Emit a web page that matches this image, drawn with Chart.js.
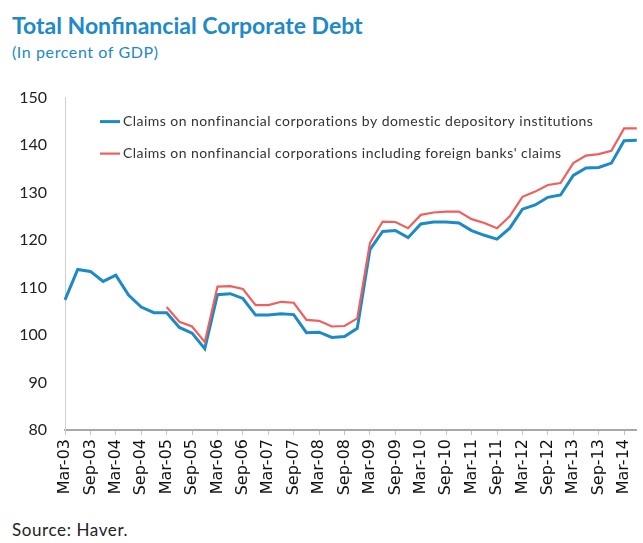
<!DOCTYPE html>
<html>
<head>
<meta charset="utf-8">
<script src="https://cdn.jsdelivr.net/npm/chart.js@4.4.1/dist/chart.umd.min.js"></script>
<style>
  html, body { margin: 0; padding: 0; background: #fff; width: 643px; height: 543px; overflow: hidden; }
  #title { position: absolute; left: 12px; top: 11px; font: bold 23px Lato, sans-serif; color: #2089c6; white-space: nowrap; }
  #sub { position: absolute; left: 12px; top: 42px; font: 16px Lato, sans-serif; letter-spacing: 0.6px; color: #2089c6; }
  #wrap { position: absolute; left: 0; top: 78px; width: 660px; height: 432px; }
  #source { position: absolute; left: 12px; top: 519px; font: 17px Lato, sans-serif; letter-spacing: 0.6px; color: #222; }
</style>
</head>
<body>
<div id="title">Total Nonfinancial Corporate Debt</div>
<div id="sub">(In percent of GDP)</div>
<div id="wrap"><canvas id="myChart" width="660" height="432"></canvas></div>
<div id="source">Source: Haver.</div>
<script>
// quarterly, Mar-03 .. Jun-14 (only Mar / Sep get a label)
const quarters = [
  'Mar-03', 'Jun-03', 'Sep-03', 'Dec-03', 'Mar-04', 'Jun-04', 'Sep-04', 'Dec-04',
  'Mar-05', 'Jun-05', 'Sep-05', 'Dec-05', 'Mar-06', 'Jun-06', 'Sep-06', 'Dec-06',
  'Mar-07', 'Jun-07', 'Sep-07', 'Dec-07', 'Mar-08', 'Jun-08', 'Sep-08', 'Dec-08',
  'Mar-09', 'Jun-09', 'Sep-09', 'Dec-09', 'Mar-10', 'Jun-10', 'Sep-10', 'Dec-10',
  'Mar-11', 'Jun-11', 'Sep-11', 'Dec-11', 'Mar-12', 'Jun-12', 'Sep-12', 'Dec-12',
  'Mar-13', 'Jun-13', 'Sep-13', 'Dec-13', 'Mar-14', 'Jun-14'
];

const domestic = [
  107.4, 113.8, 113.4, 111.3, 112.6, 108.4, 105.9, 104.7,
  104.7, 101.6, 100.4, 97.1, 108.5, 108.7, 107.7, 104.2,
  104.2, 104.5, 104.3, 100.5, 100.6, 99.5, 99.7, 101.4,
  118.0, 121.8, 122.0, 120.5, 123.4, 123.8, 123.8, 123.6,
  122.0, 121.0, 120.2, 122.5, 126.5, 127.4, 129.0, 129.5,
  133.6, 135.2, 135.3, 136.2, 140.9, 141.0
];

const withForeign = [
  null, null, null, null, null, null, null, null,
  105.9, 102.8, 101.8, 98.5, 110.2, 110.3, 109.7, 106.3,
  106.3, 107.0, 106.8, 103.2, 103.0, 101.8, 101.9, 103.5,
  119.4, 123.9, 123.8, 122.5, 125.3, 125.8, 126.0, 126.0,
  124.4, 123.6, 122.5, 125.0, 129.1, 130.2, 131.6, 132.0,
  136.2, 137.8, 138.1, 138.8, 143.5, 143.5
];

const seriesNames = [
  'Claims on nonfinancial corporations by domestic depository institutions',
  "Claims on nonfinancial corporations including foreign banks' claims"
];

const yTicks = [80, 90, 100, 110, 120, 130, 140, 150];

// legend drawn inside the plot, top left
const innerLegend = {
    id: 'innerLegend',
    afterDraw(chart) {
        const c = chart.ctx;
        const a = chart.chartArea;
        c.save();
        c.font = '14px Lato, sans-serif';
        c.letterSpacing = '0.45px';
        c.textBaseline = 'middle';
        chart.data.datasets.forEach((ds, i) => {
            const y = a.top + 24 + i * 32;
            const x = a.left + 35;
            c.strokeStyle = ds.borderColor;
            c.lineWidth = ds.borderWidth;
            c.beginPath();
            c.moveTo(x, y);
            c.lineTo(x + 20, y);
            c.stroke();
            c.fillStyle = '#333';
            c.fillText(ds.label, x + 23, y);
        });
        c.restore();
    }
};

const ctx = document.getElementById('myChart').getContext('2d');
new Chart(ctx, {
    type: 'line',
    data: {
        labels: quarters,
        datasets: [{
            label: seriesNames[0],
            data: domestic,
            borderColor: '#1b8ac6',
            borderWidth: 3,
            pointRadius: 0,
            tension: 0,
            order: 1
        }, {
            label: seriesNames[1],
            data: withForeign,
            borderColor: '#ef5f5c',
            borderWidth: 2.2,
            pointRadius: 0,
            tension: 0,
            order: 0
        }]
    },
    options: {
        responsive: false,
        animation: false,
        layout: { padding: { top: 15, right: 9, left: 0, bottom: 0 } },
        scales: {
            x: {
                offset: false,
                afterFit: (s) => { s.height = 80; },
                grid: {
                    drawOnChartArea: false,
                    tickLength: 5,
                    color: (c) => (c.index % 2 === 0 ? '#c4c4c4' : 'rgba(0,0,0,0)')
                },
                border: { color: '#a8a8a8', width: 2 },
                ticks: {
                    autoSkip: false,
                    minRotation: 90,
                    maxRotation: 90,
                    padding: 4,
                    color: '#111',
                    font: { family: 'DejaVu Sans, sans-serif', size: 16 },
                    callback: (v, i) => (i % 2 === 0 ? quarters[i] : '')
                }
            },
            y: {
                min: yTicks[0],
                max: yTicks[yTicks.length - 1],
                afterFit: (s) => { s.width = 65; },
                afterBuildTicks: (s) => { s.ticks = yTicks.map(v => ({ value: v })); },
                grid: { display: false },
                border: { color: '#cfcfcf', width: 1 },
                ticks: {
                    padding: 10,
                    color: '#222',
                    font: { family: 'Lato, sans-serif', size: 16 }
                }
            }
        },
        plugins: {
            legend: { display: false },
            tooltip: { enabled: false }
        }
    },
    plugins: [innerLegend]
});
</script>
</body>
</html>
